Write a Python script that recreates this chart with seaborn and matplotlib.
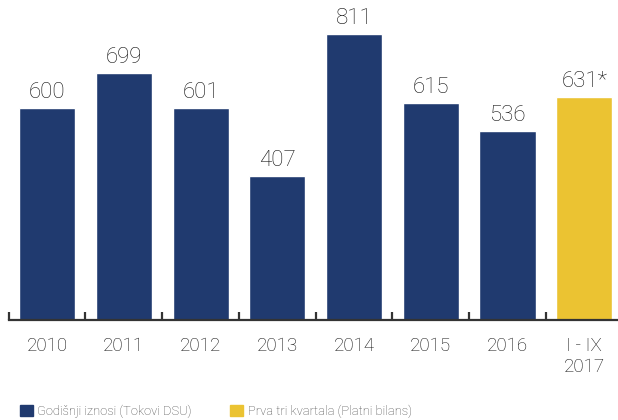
import pandas as pd
import seaborn as sns
import matplotlib.pyplot as plt
from matplotlib.patches import Patch

# data
years = ["2010", "2011", "2012", "2013", "2014", "2015", "2016", "I - IX\n2017"]
values = [600, 699, 601, 407, 811, 615, 536, 631]
value_labels = ["600", "699", "601", "407", "811", "615", "536", "631*"]
series = ["Godišnji iznosi (Tokovi DSU)"] * 7 + ["Prva tri kvartala (Platni bilans)"]

navy = "#203a6f"
yellow = "#ebc332"

df = pd.DataFrame({"year": years, "value": values, "series": series})

sns.set_style("white")
plt.rcParams["font.family"] = ["Roboto", "DejaVu Sans"]

fig = plt.figure(figsize=(6.18, 4.20), dpi=100)
ax = fig.add_axes([0.014, 0.238, 0.986, 0.757])

sns.barplot(data=df, x="year", y="value", hue="series", dodge=False,
            palette=[navy, yellow], width=0.73, saturation=1, ax=ax,
            legend=False)

for i, (v, lab) in enumerate(zip(values, value_labels)):
    ax.text(i, v + 14, lab, ha="center", va="bottom", fontsize=16,
            fontweight="light", color="#111111")

ax.set_xlim(-0.5, 7.44)
ax.set_ylim(0, 900)
ax.set_xlabel("")
ax.set_ylabel("")
ax.set_yticks([])

for s in ["top", "right", "left"]:
    ax.spines[s].set_visible(False)
ax.spines["bottom"].set_color("#333333")
ax.spines["bottom"].set_linewidth(1.6)

ax.set_xticks(range(len(years)))
ax.set_xticklabels(years, fontsize=13.5, fontweight="light", color="#111111")
ax.tick_params(axis="x", which="major", length=0, pad=12)
ax.set_xticks([i - 0.5 for i in range(len(years))], minor=True)
ax.tick_params(axis="x", which="minor", bottom=True, direction="in", length=6,
               width=1.6, color="#333333")

handles = [Patch(color=navy), Patch(color=yellow)]
fig.legend(handles, ["Godišnji iznosi (Tokovi DSU)", "Prva tri kvartala (Platni bilans)"],
           loc="center left", bbox_to_anchor=(0.032, 0.021), ncol=2, frameon=False,
           handlelength=1.0, handleheight=1.0, handletextpad=0.35,
           columnspacing=3.0, borderpad=0, borderaxespad=0,
           prop={"size": 9.3, "weight": "light"}, labelcolor="#4a4a4a")

fig.savefig("out.png", dpi=100)
